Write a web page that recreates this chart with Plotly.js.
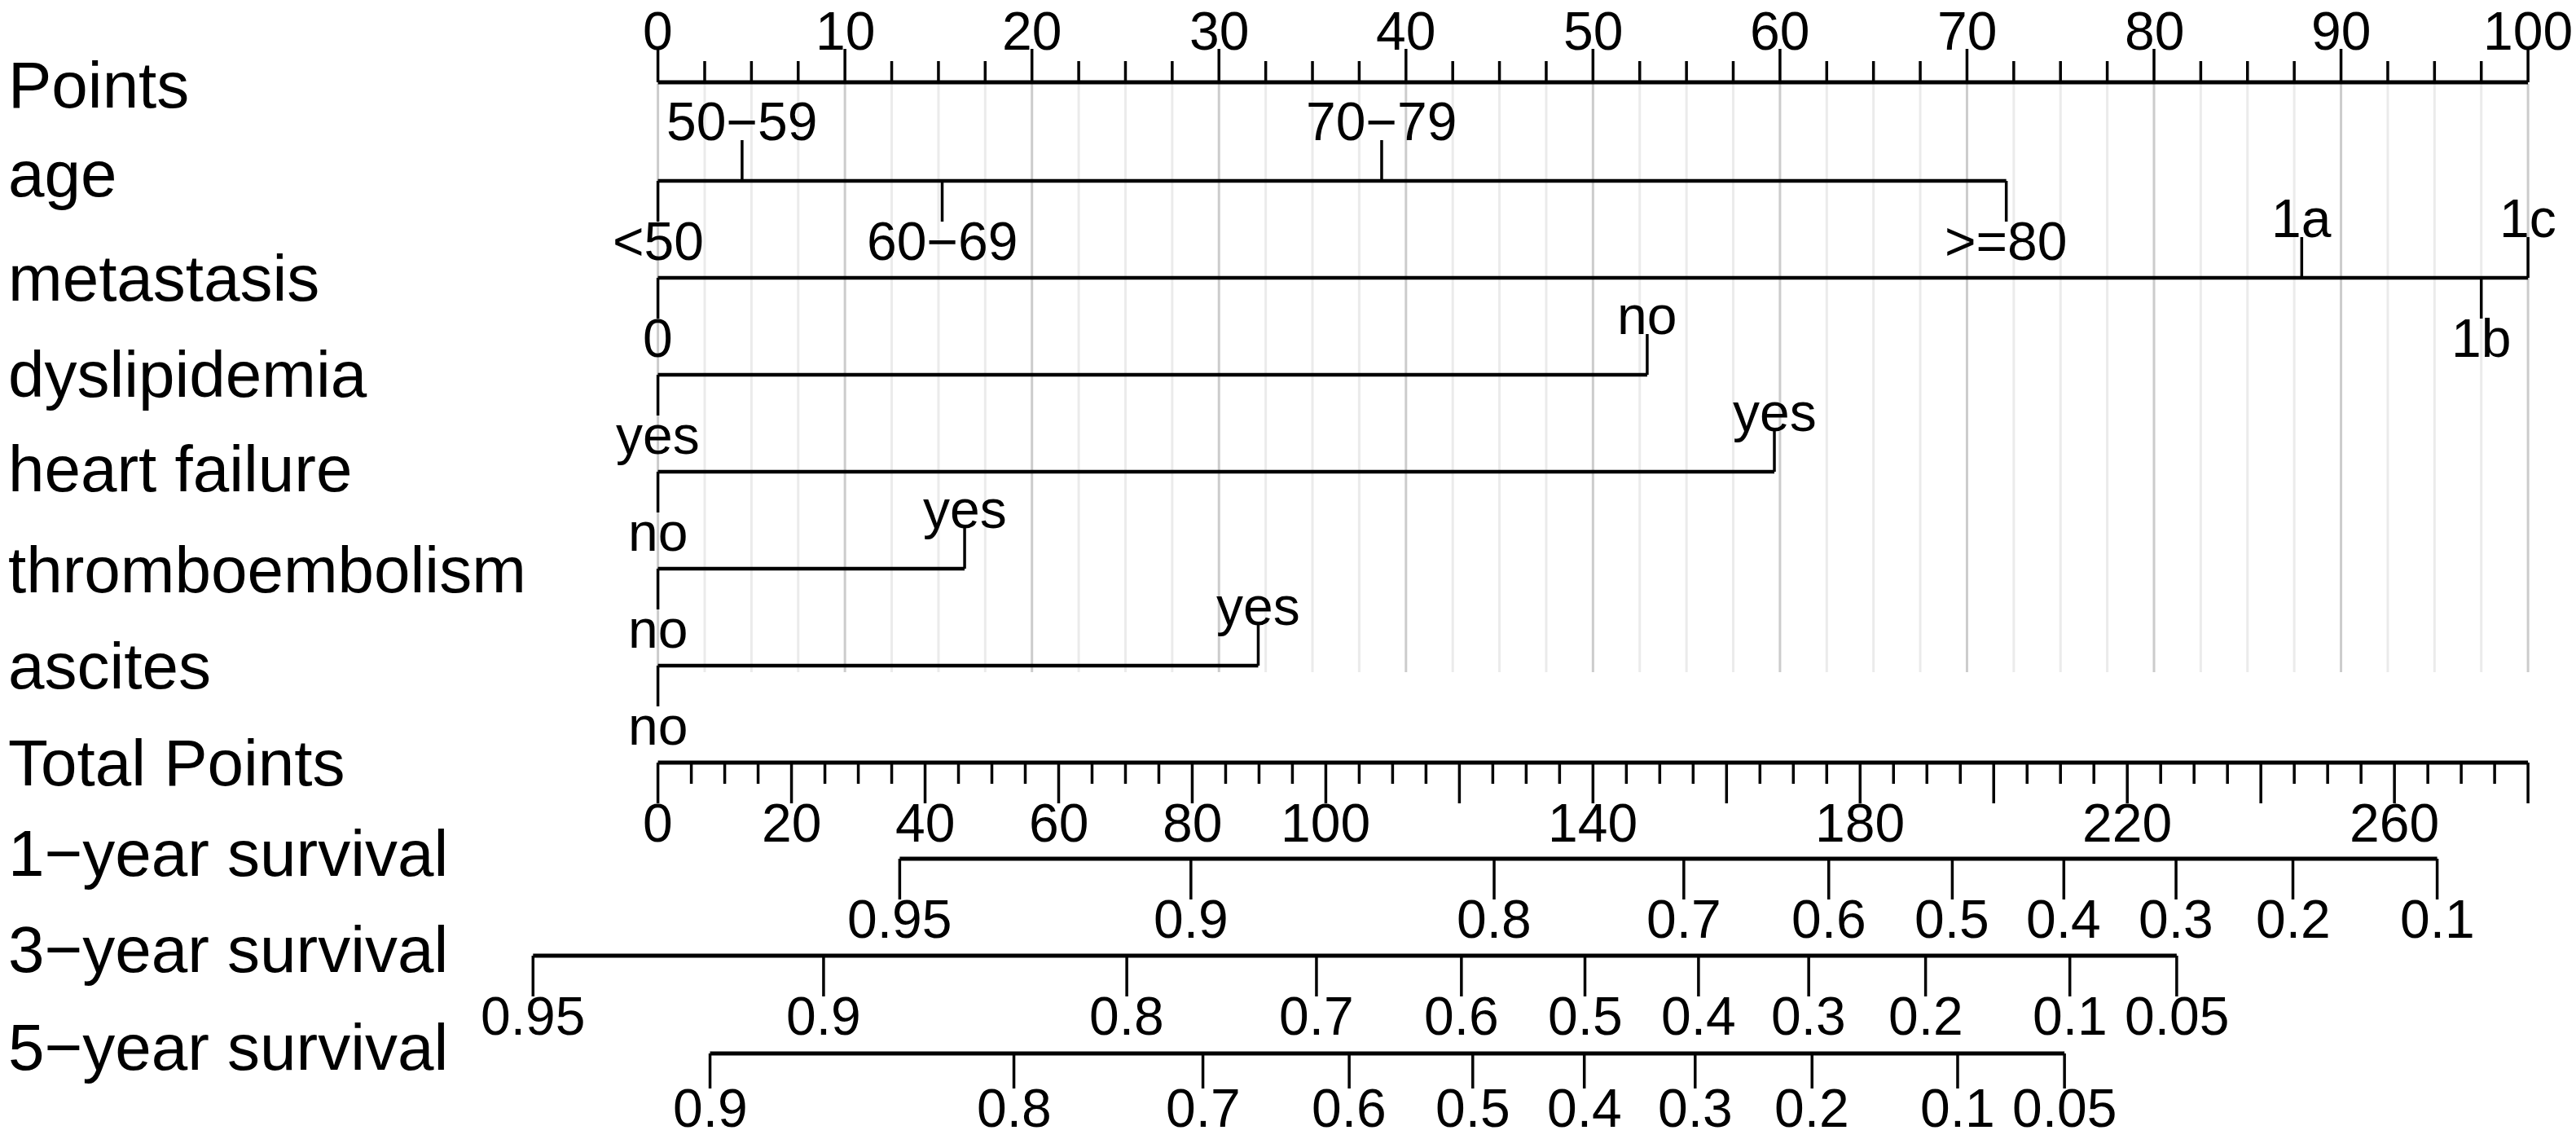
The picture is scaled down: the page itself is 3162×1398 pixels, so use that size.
<!DOCTYPE html>
<html>
<head>
<meta charset="utf-8">
<script src="https://cdn.plot.ly/plotly-3.0.1.min.js"></script>
<style>
html,body{margin:0;padding:0;background:#ffffff;overflow:hidden;}
#chart{width:3162px;height:1398px;}
</style>
</head>
<body>
<div id="chart"></div>
<script>
// ---------------- DATA ----------------
const pointsTicks = [0, 10, 20, 30, 40, 50, 60, 70, 80, 90, 100];

const ageLevels = ['<50', '50\u221259', '60\u221269', '70\u221279', '>=80'];
const agePoints = [0, 4.5, 15.2, 38.7, 72.1];

const metastasisLevels = ['0', '1a', '1b', '1c'];
const metastasisPoints = [0, 87.9, 97.5, 100];

const dyslipidemiaLevels = ['yes', 'no'];
const dyslipidemiaPoints = [0, 52.9];

const heartFailureLevels = ['no', 'yes'];
const heartFailurePoints = [0, 59.7];

const thromboembolismLevels = ['no', 'yes'];
const thromboembolismPoints = [0, 16.4];

const ascitesLevels = ['no', 'yes'];
const ascitesPoints = [0, 32.1];

const totalPointsTicks = [0, 20, 40, 60, 80, 100, 120, 140, 160, 180, 200, 220, 240, 260, 280];
const totalPointsTickLabels = ['0', '20', '40', '60', '80', '100', '', '140', '', '180', '', '220', '', '260', ''];
const totalPointsMax = 280;

const surv1Labels = ['0.95', '0.9', '0.8', '0.7', '0.6', '0.5', '0.4', '0.3', '0.2', '0.1'];
const surv1Total  = [36.2, 79.8, 125.2, 153.6, 175.3, 193.8, 210.5, 227.3, 244.8, 266.4];

const surv3Labels = ['0.95', '0.9', '0.8', '0.7', '0.6', '0.5', '0.4', '0.3', '0.2', '0.1', '0.05'];
const surv3Total  = [-18.7, 24.8, 70.2, 98.6, 120.3, 138.8, 155.8, 172.3, 189.8, 211.4, 227.4];

const surv5Labels = ['0.9', '0.8', '0.7', '0.6', '0.5', '0.4', '0.3', '0.2', '0.1', '0.05'];
const surv5Total  = [7.8, 53.3, 81.6, 103.5, 122.0, 138.7, 155.3, 172.8, 194.6, 210.6];

const rowNames = ['Points', 'age', 'metastasis', 'dyslipidemia', 'heart failure', 'thromboembolism',
                  'ascites', 'Total Points', '1\u2212year survival', '3\u2212year survival', '5\u2212year survival'];

// ---------------- LAYOUT GEOMETRY ----------------
const W = 3162, H = 1398;
const ZERO_PX = 807.6;          // pixel of 0 points
const PX_PER_PT = 22.955;       // pixels per point
const rowLineY   = [101, 222, 341, 460, 579, 698, 817, 936, 1054, 1173, 1293];
const rowLabelBase = [132, 241, 369, 487, 603, 727, 845, 964, 1075, 1193, 1313];
const FS_ROW = 80, FS_TICK = 66;
const FONT = 'Liberation Sans, Arial, Helvetica, sans-serif';
const MID = 0.346;              // baseline offset of a middle-anchored annotation (em)
const TICK = 50, MINOR = 26;
const TOP_TICK = 41;            // points-axis major ticks (labels kept inside the picture)
const TOP_BASE = 61;            // baseline of points-axis labels
const LAST_TICK = 43;           // 5-year ticks (labels kept inside the picture)
const GRID_BOTTOM = 825;

const xr = [-ZERO_PX / PX_PER_PT, (W - ZERO_PX) / PX_PER_PT];
const xr2 = xr.map(v => v * totalPointsMax / 100);

const traces = [];
const annotations = [];

function segTrace(xs, y0s, y1s, axis, color, width) {
  const x = [], y = [];
  xs.forEach((v, i) => {
    x.push(v, v, null);
    y.push(Array.isArray(y0s) ? y0s[i] : y0s, Array.isArray(y1s) ? y1s[i] : y1s, null);
  });
  traces.push({type: 'scatter', mode: 'lines', x: x, y: y, xaxis: axis, yaxis: 'y',
    line: {color: color, width: width}, hoverinfo: 'skip', showlegend: false, connectgaps: false});
}
function hLine(x0, x1, yv, axis, width) {
  traces.push({type: 'scatter', mode: 'lines', x: [x0, x1], y: [yv, yv], xaxis: axis, yaxis: 'y',
    line: {color: '#000000', width: width}, hoverinfo: 'skip', showlegend: false});
}
function label(text, xv, baseline, axis, fs) {
  annotations.push({text: text, x: xv, y: baseline - MID * fs, xref: axis, yref: 'y',
    xanchor: 'center', yanchor: 'middle', showarrow: false,
    font: {family: FONT, size: fs, color: '#000000'}});
}

// ---------------- GRID ----------------
const minorGrid = [], majorGrid = [];
for (let k = 0; k <= 40; k++) {
  const v = k * 2.5;
  if (k % 4 === 0) majorGrid.push(v); else minorGrid.push(v);
}
segTrace(minorGrid, rowLineY[0] + 2, GRID_BOTTOM, 'x', '#ebebeb', 3);
segTrace(majorGrid, rowLineY[0] + 2, GRID_BOTTOM, 'x', '#cccccc', 3);

// ---------------- POINTS AXIS ----------------
hLine(0, 100, rowLineY[0], 'x', 5);
segTrace(pointsTicks, rowLineY[0], rowLineY[0] - TOP_TICK, 'x', '#000000', 3.5);
segTrace(minorGrid, rowLineY[0], rowLineY[0] - MINOR, 'x', '#000000', 3.5);
pointsTicks.forEach(v => label(String(v), v, TOP_BASE, 'x', FS_TICK));

// ---------------- PREDICTOR ROWS ----------------
const predictors = [
  [ageLevels, agePoints],
  [metastasisLevels, metastasisPoints],
  [dyslipidemiaLevels, dyslipidemiaPoints],
  [heartFailureLevels, heartFailurePoints],
  [thromboembolismLevels, thromboembolismPoints],
  [ascitesLevels, ascitesPoints]
];
predictors.forEach((p, r) => {
  const yl = rowLineY[r + 1];
  const levels = p[0], pts = p[1];
  hLine(Math.min(...pts), Math.max(...pts), yl, 'x', 4.5);
  const ends = pts.map((v, i) => (i % 2 === 0 ? yl + TICK : yl - TICK));
  segTrace(pts, yl, ends, 'x', '#000000', 3.5);
  levels.forEach((t, i) => {
    const base = (i % 2 === 0) ? yl + TICK + 47 : yl - TICK;
    label(t, pts[i], base, 'x', FS_TICK);
  });
});

// ---------------- TOTAL POINTS AXIS ----------------
const yT = rowLineY[7];
hLine(0, totalPointsMax, yT, 'x2', 5);
segTrace(totalPointsTicks, yT, yT + TICK, 'x2', '#000000', 3.5);
const tMinor = [];
for (let v = 0; v <= totalPointsMax; v += 5) if (v % 20 !== 0) tMinor.push(v);
segTrace(tMinor, yT, yT + MINOR, 'x2', '#000000', 3.5);
totalPointsTicks.forEach((v, i) => {
  if (totalPointsTickLabels[i] !== '') label(totalPointsTickLabels[i], v, yT + 97, 'x2', FS_TICK);
});

// ---------------- SURVIVAL AXES ----------------
[[surv1Labels, surv1Total], [surv3Labels, surv3Total], [surv5Labels, surv5Total]].forEach((s, j) => {
  const yl = rowLineY[8 + j];
  const tl = (j === 2) ? LAST_TICK : TICK;
  hLine(Math.min(...s[1]), Math.max(...s[1]), yl, 'x2', 5);
  segTrace(s[1], yl, yl + tl, 'x2', '#000000', 3.5);
  s[0].forEach((t, i) => label(t, s[1][i], yl + tl + 47, 'x2', FS_TICK));
});

// ---------------- ROW LABELS ----------------
rowNames.forEach((n, i) => {
  annotations.push({text: n, x: 8 / W, y: rowLabelBase[i] - MID * FS_ROW, xref: 'paper', yref: 'y',
    xanchor: 'left', yanchor: 'middle', showarrow: false,
    font: {family: FONT, size: FS_ROW, color: '#000000'}});
});

const layout = {
  width: W, height: H,
  margin: {l: 0, r: 0, t: 0, b: 0, pad: 0},
  paper_bgcolor: '#ffffff', plot_bgcolor: '#ffffff',
  showlegend: false,
  xaxis: {range: xr, visible: false, fixedrange: true},
  xaxis2: {range: xr2, visible: false, overlaying: 'x', fixedrange: true},
  yaxis: {range: [H, 0], visible: false, fixedrange: true},
  annotations: annotations
};

Plotly.newPlot('chart', traces, layout, {staticPlot: true, displayModeBar: false});
</script>
</body>
</html>
